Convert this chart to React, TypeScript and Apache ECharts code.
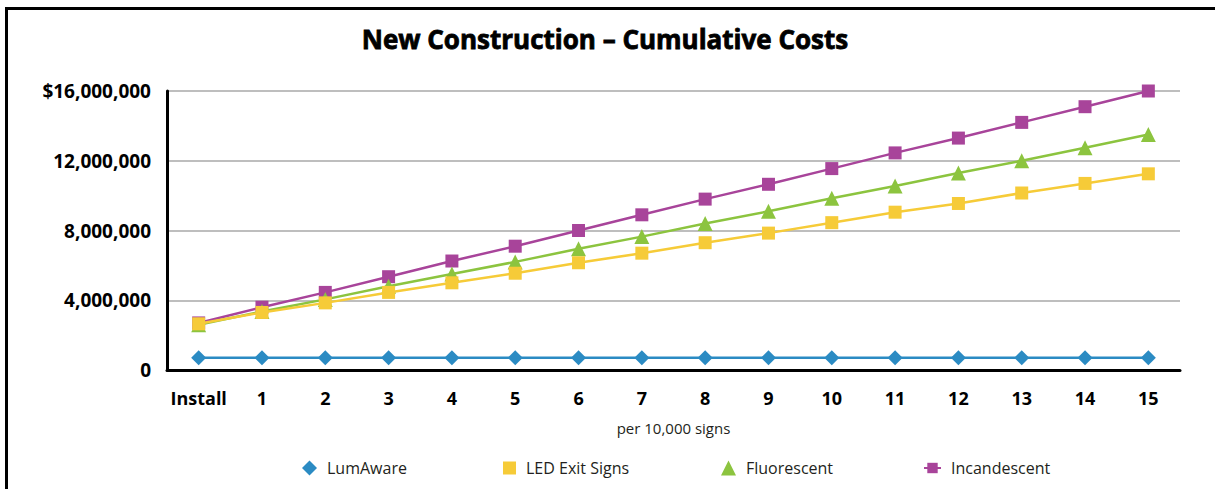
import React, { useEffect, useRef } from "react";
import * as echarts from "echarts";

const categories = ["Install", "1", "2", "3", "4", "5", "6", "7", "8", "9", "10", "11", "12", "13", "14", "15"];
const lumAware = [700000, 700000, 700000, 700000, 700000, 700000, 700000, 700000, 700000, 700000, 700000, 700000, 700000, 700000, 700000, 700000];
const ledExit = [2650000, 3300000, 3850000, 4450000, 5000000, 5550000, 6150000, 6700000, 7300000, 7850000, 8450000, 9050000, 9550000, 10150000, 10700000, 11250000];
const fluorescent = [2600000, 3350000, 4050000, 4800000, 5500000, 6200000, 6950000, 7650000, 8400000, 9100000, 9850000, 10550000, 11300000, 12000000, 12750000, 13500000];
const incandescent = [2700000, 3600000, 4450000, 5350000, 6250000, 7100000, 8000000, 8900000, 9800000, 10650000, 11550000, 12450000, 13300000, 14200000, 15100000, 16000000];

const seriesNames = ["LumAware", "LED Exit Signs", "Fluorescent", "Incandescent"];
const colors = ["#2b8bc3", "#f6cb38", "#8cc43f", "#a8449a"];

const FONT = "'Open Sans', 'Noto Sans', sans-serif";

export default function App() {
  const ref = useRef<HTMLDivElement>(null);
  useEffect(() => {
    if (!ref.current) return;
    const chart = echarts.init(ref.current, null, { renderer: "svg" });
    const fmt = (v: number) => {
      const s = v.toLocaleString("en-US");
      return v === 16000000 ? "$" + s : s;
    };
    const legendBase = {
      orient: "horizontal" as const,
      top: 455,
      itemWidth: 15,
      itemHeight: 15,
      textStyle: { fontFamily: FONT, fontSize: 16, color: "#231f20", padding: [0, 0, 0, 5] },
      selectedMode: false,
    };
    chart.setOption({
      animation: false,
      textStyle: { fontFamily: FONT },
      title: {
        text: "New Construction – Cumulative Costs",
        left: 600,
        textAlign: "center",
        top: 21,
        textStyle: { fontFamily: FONT, fontSize: 26, fontWeight: "bold", color: "#000", textBorderColor: "#000", textBorderWidth: 0.8 },
      },
      graphic: [
        {
          type: "polyline",
          shape: { points: [[6.5, 600], [6.5, 8.5], [1300, 8.5]] },
          style: { stroke: "#000", lineWidth: 3, fill: "none" },
        },
      ],
      legend: [
        { ...legendBase, left: 297, data: [{ name: seriesNames[0], icon: "diamond" }] },
        { ...legendBase, left: 498, itemWidth: 13, itemHeight: 13, data: [{ name: seriesNames[1], icon: "rect" }] },
        { ...legendBase, left: 716, data: [{ name: seriesNames[2], icon: "triangle" }] },
        { ...legendBase, left: 918, itemWidth: 17, itemHeight: 13, data: [{ name: seriesNames[3] }] },
      ],
      grid: { left: 167, right: 35, top: 91, bottom: 119, containLabel: false },
      xAxis: {
        type: "category",
        data: categories,
        boundaryGap: true,
        name: "per 10,000 signs",
        nameLocation: "middle",
        nameGap: 50,
        nameTextStyle: { fontFamily: FONT, fontSize: 15, color: "#231f20" },
        axisLine: { lineStyle: { color: "#000", width: 3 } },
        axisTick: { show: false },
        axisLabel: { interval: 0, fontFamily: FONT, fontSize: 18, fontWeight: "bold", color: "#000", margin: 19 },
      },
      yAxis: {
        type: "value",
        min: 0,
        max: 16000000,
        interval: 4000000,
        axisLine: { show: true, lineStyle: { color: "#000", width: 3 } },
        axisTick: { show: false },
        splitLine: { lineStyle: { color: "#a9a9a9", width: 1.5 } },
        axisLabel: { fontFamily: FONT, fontSize: 19, fontWeight: "bold", color: "#000", margin: 16, formatter: fmt },
      },
      series: [
        { name: seriesNames[0], type: "line", data: lumAware, symbol: "diamond", symbolSize: 15, color: colors[0], lineStyle: { width: 2.5 }, z: 5 },
        { name: seriesNames[1], type: "line", data: ledExit, symbol: "rect", symbolSize: 13, color: colors[1], lineStyle: { width: 2.5 }, z: 4 },
        { name: seriesNames[2], type: "line", data: fluorescent, symbol: "triangle", symbolSize: 15, color: colors[2], lineStyle: { width: 2.5 }, z: 3 },
        { name: seriesNames[3], type: "line", data: incandescent, symbol: "rect", symbolSize: 13, color: colors[3], lineStyle: { width: 2.5 }, z: 2 },
      ],
    });
    return () => chart.dispose();
  }, []);
  return <div ref={ref} style={{ position: "fixed", left: 0, top: 0, width: 1215, height: 489, background: "#fff" }} />;
}
